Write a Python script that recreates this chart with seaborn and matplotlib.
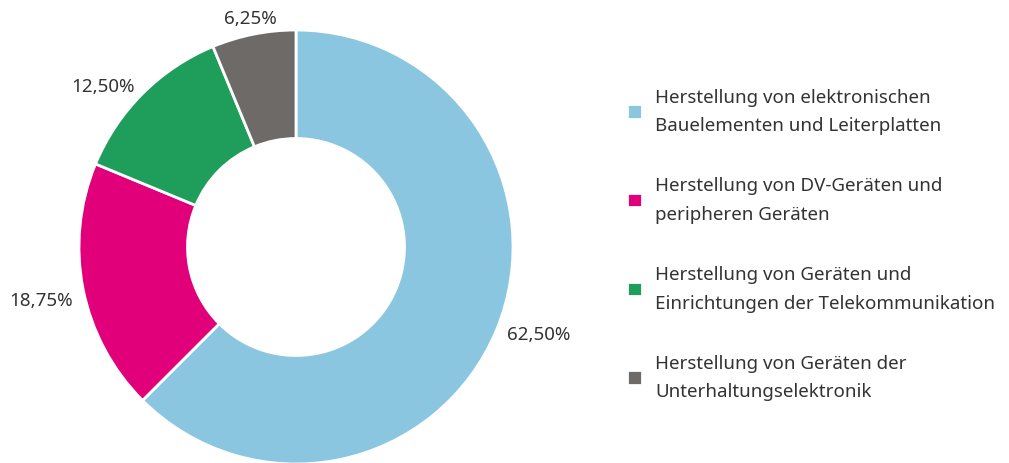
import numpy as np
import matplotlib
matplotlib.use("Agg")
import matplotlib.pyplot as plt
import seaborn as sns

sns.set_theme(style="white")
plt.rcParams['font.family'] = ['Noto Sans', 'DejaVu Sans']

labels = ['Herstellung von elektronischen\nBauelementen und Leiterplatten',
          'Herstellung von DV-Geräten und\nperipheren Geräten',
          'Herstellung von Geräten und\nEinrichtungen der Telekommunikation',
          'Herstellung von Geräten der\nUnterhaltungselektronik']
values = [62.5, 18.75, 12.5, 6.25]
pct_text = ['62,50%', '18,75%', '12,50%', '6,25%']
colors = ['#8AC6E0', '#E2007A', '#1E9E5A', '#6E6A67']

fig = plt.figure(figsize=(10.09, 4.64), dpi=100)
r_px = 217
ax = fig.add_axes([(296 - r_px) / 1009, (464 - 248 - r_px) / 464, 2 * r_px / 1009, 2 * r_px / 464])

wedges, _ = ax.pie(values, colors=colors, startangle=90, counterclock=False,
                   radius=1, wedgeprops=dict(width=0.5, edgecolor='white', linewidth=2))
ax.set_xlim(-1, 1)
ax.set_ylim(-1, 1)
ax.set_aspect('equal')

for w, t in zip(wedges, pct_text):
    ang = np.deg2rad((w.theta1 + w.theta2) / 2)
    c, s = np.cos(ang), np.sin(ang)
    rr = 1.075 if s > 0.9 else 1.05
    x, y = rr * c, rr * s
    if abs(c) < 0.3:
        ha = 'center'
    else:
        ha = 'left' if c > 0 else 'right'
    va = 'top' if (s < 0 and c < 0) else 'center'
    ax.text(x, y, t, ha=ha, va=va, fontsize=13.5, color='#333333', clip_on=False)

leg = fig.legend(wedges, labels, loc='center left', bbox_to_anchor=(610 / 1009, 1 - 245 / 464),
                 frameon=False, fontsize=13.5, handlelength=0.8, handleheight=0.8,
                 handletextpad=0.7, labelspacing=2.25, labelcolor='#333333')
for txt in leg.get_texts():
    txt.set_linespacing(1.75)

fig.savefig('out.png', dpi=100)
